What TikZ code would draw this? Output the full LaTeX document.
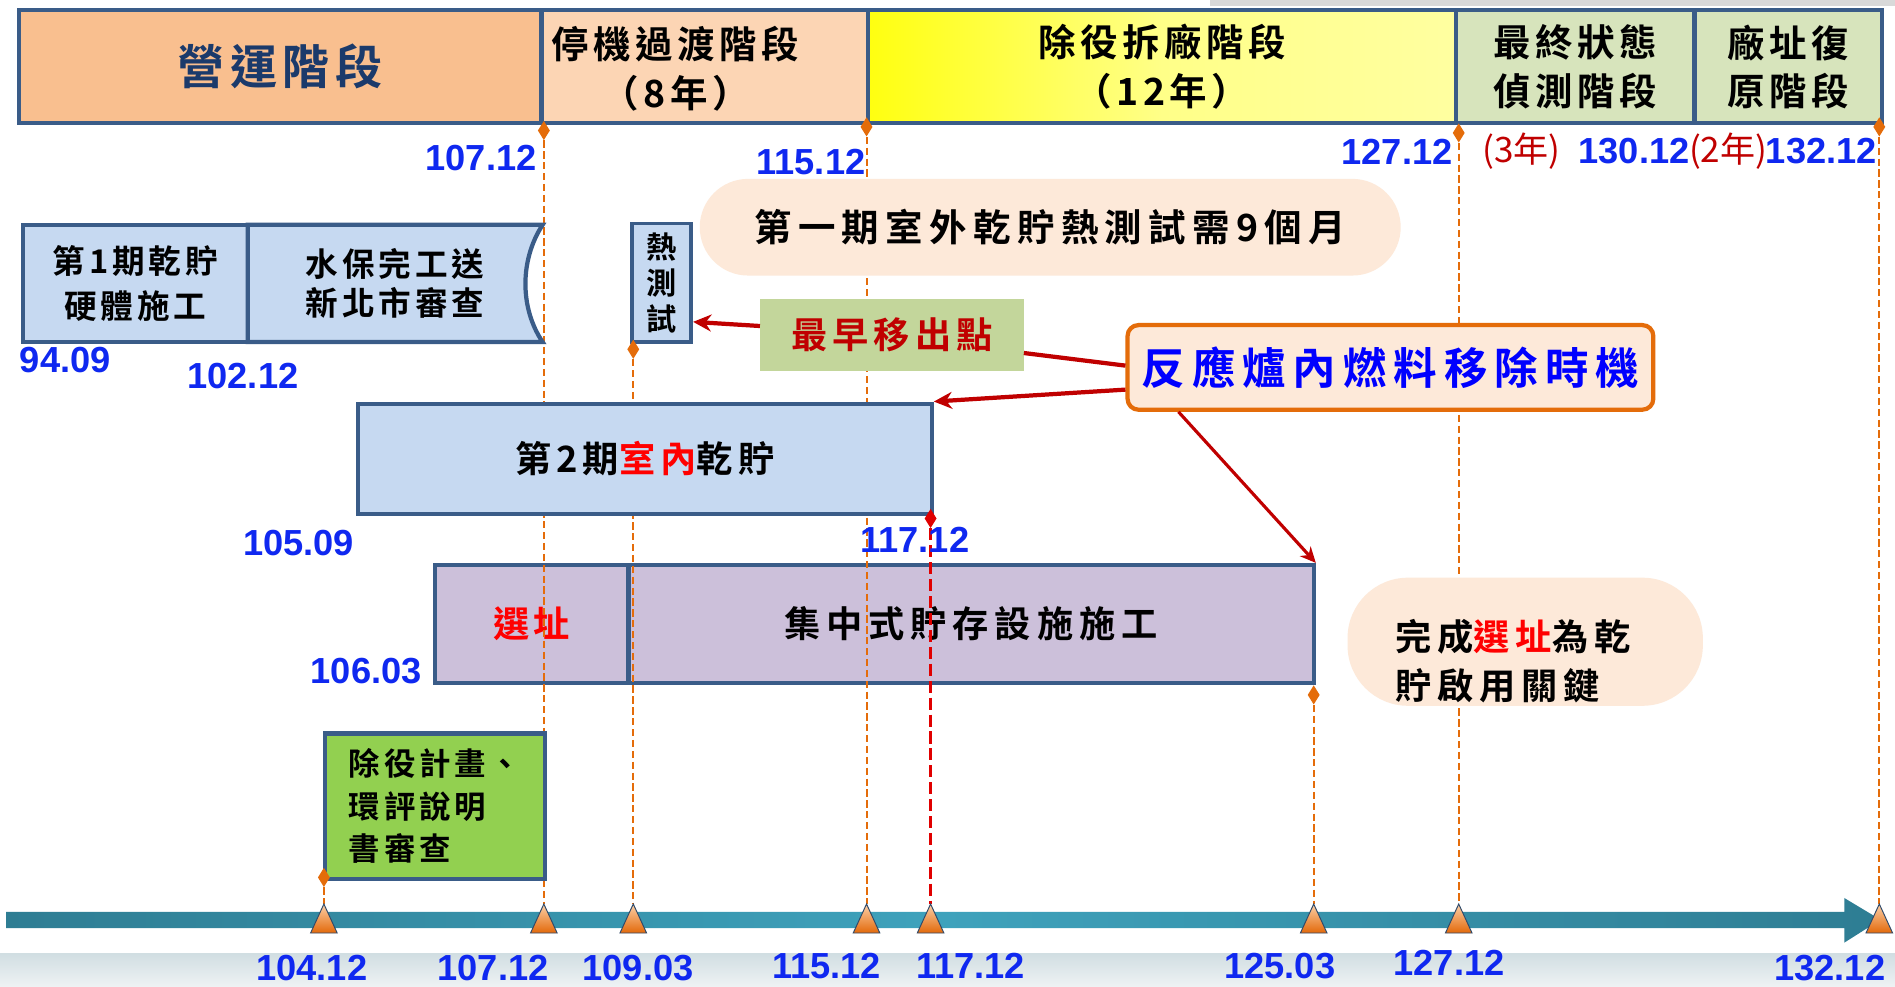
\documentclass[tikz,border=0pt]{standalone}
\usepackage{fontspec}
\usetikzlibrary{arrows.meta,calc,shapes.geometric}
\newfontfamily\cjk{Noto Sans CJK TC}[BoldFont={Noto Sans CJK TC Bold}]
\newfontfamily\numf{Liberation Sans}
\newcommand\cf[3]{\cjk\bfseries\fontsize{#1}{#2}\selectfont\addfontfeature{LetterSpace=#3}}
\newcommand\nf{\numf\bfseries\fontsize{30}{36}\selectfont}
\definecolor{bord}{HTML}{3A5C88}
\definecolor{navyt}{HTML}{1B3A6B}
\definecolor{opfill}{HTML}{F9BF8F}
\definecolor{trfill}{HTML}{FCD5B4}
\definecolor{gfill}{HTML}{D7E4BC}
\definecolor{lblue}{HTML}{C6D9F1}
\definecolor{lpurple}{HTML}{CCC0DA}
\definecolor{lgreen}{HTML}{92D050}
\definecolor{egreen}{HTML}{C3D69B}
\definecolor{peach}{HTML}{FDE9D9}
\definecolor{dorange}{HTML}{E46C0A}
\definecolor{dred}{HTML}{C00000}
\definecolor{pred}{HTML}{FF0000}
\definecolor{pblue}{HTML}{0000FF}
\definecolor{nblue}{HTML}{0F28F0}
\definecolor{rline}{HTML}{E00000}
\definecolor{greyS}{HTML}{D9D9D9}
\definecolor{bandA}{HTML}{D1DEE2}
\definecolor{bandB}{HTML}{EEF2F4}
\definecolor{tealA}{HTML}{2E7D93}
\definecolor{tealB}{HTML}{3EA2BC}
\definecolor{triT}{HTML}{FBD0A8}
\definecolor{triB}{HTML}{E3690A}
\definecolor{triD}{HTML}{2F4A6B}
\definecolor{yelA}{HTML}{FFFF10}
\definecolor{yelB}{HTML}{FFFF88}
\definecolor{yelC}{HTML}{FFFFA0}
\pgfdeclarelayer{bg}
\pgfdeclarelayer{mid}
\pgfsetlayers{bg,mid,main}
\begin{document}
\begin{tikzpicture}[x=1pt,y=-1pt,
  bx/.style={draw=bord, line width=3.5pt, inner sep=0pt},
  odash/.style={draw=dorange, line width=1.6pt, dash pattern=on 6pt off 3pt},
  rdash/.style={draw=rline, line width=2.6pt, dash pattern=on 10pt off 4pt},
  dia/.style={diamond, fill=dorange, inner sep=0pt, minimum width=10pt, minimum height=16pt},
  rdia/.style={dia, fill=rline},
  numl/.style={text=nblue, font=\nf, inner sep=0pt},
  rnum/.style={text=dred, font=\cjk\fontsize{29}{32}\selectfont, inner sep=0pt},
  tri/.style={top color=triT, bottom color=triB, draw=triD, line width=0.8pt},
  rarr/.style={draw=dred, line width=3.5pt, -{Stealth[length=15pt,width=14pt]}},
  rline/.style={draw=dred, line width=3.5pt}]
\useasboundingbox (0,0) rectangle (1568,816);
\begin{pgfonlayer}{bg}
  \fill[white] (0,0) rectangle (1568,816);
  \fill[greyS] (1001,0) rectangle (1568,5);
  \shade[top color=bandA, bottom color=bandB] (0,789) rectangle (1568,816);
  \node[bx, fill=lpurple, minimum width=160pt, minimum height=97.5pt, text=pred, font=\cf{30}{36}{12}] (site) at (440,516.25) {選址};
  \node[bx, fill=lpurple, minimum width=567pt, minimum height=97.5pt, font=\cf{30}{36}{16}] (cs) at (803.5,516.25) {集中式貯存設施施工};
\end{pgfonlayer}

% top bar
\node[bx, fill=opfill, minimum width=432.5pt, minimum height=93.5pt, text=navyt, font=\cf{39}{46}{12}] (op) at (231.75,55.25) {營運階段};
\node[bx, fill=trfill, minimum width=270pt, minimum height=93.5pt] (tr) at (583,55.25) {};
\node[align=center, font=\cf{31}{40}{12}] (trt) at (559,57) {停機過渡階段\\（8年）};
\node[bx, left color=yelA, right color=yelC, middle color=yelB, minimum width=487pt, minimum height=93.5pt, align=center, font=\cf{31}{40}{12}] (dm) at (961.5,55.25) {除役拆廠階段\\（12年）};
\node[bx, fill=gfill, minimum width=197pt, minimum height=93.5pt, align=center, font=\cf{31}{40}{12}] (fs) at (1303.5,55.25) {最終狀態\\偵測階段};
\node[bx, fill=gfill, minimum width=155pt, minimum height=93.5pt, align=center, font=\cf{31}{40}{12}] (sr) at (1479.5,55.25) {廠址復\\原階段};

% row 1
\node[bx, fill=lblue, minimum width=186pt, minimum height=97pt, align=center, font=\cf{27}{37}{12}] (p1) at (112,234.5) {第1期乾貯\\硬體施工};
\draw[draw=bord, line width=3.5pt, fill=lblue] (205,186) -- (449,186) .. controls (430,215) and (430,255) .. (449,283) -- (205,283) -- cycle;
\node[align=center, font=\cf{27}{32}{12}, minimum width=244pt, minimum height=97pt] (wb) at (327,234.5) {水保完工送\\新北市審查};
\node[bx, line width=3pt, fill=lblue, minimum width=49pt, minimum height=98pt, align=center, font=\cf{25}{30}{0}] (heat) at (547.5,234) {熱\\測\\試};
\node[fill=peach, rounded corners=40pt, minimum width=580pt, minimum height=80pt, inner sep=0pt, font=\cf{31}{36}{17}] (fm) at (869,188) {第一期室外乾貯熱測試需9個月};
\node[fill=egreen, minimum width=218pt, minimum height=60pt, inner sep=0pt, text=dred, font=\cf{30}{36}{14}] (early) at (738,277) {最早移出點};
\node[draw=dorange, line width=3.5pt, fill=peach, rounded corners=9pt, minimum width=435pt, minimum height=70pt, inner sep=0pt, text=pblue, font=\cf{36}{40}{16}] (fuel) at (1150.5,304) {反應爐內燃料移除時機};

% row 2
\node[bx, fill=lblue, minimum width=475pt, minimum height=91pt, font=\cf{30}{36}{14}] (ph2) at (533.5,379.5) {第2期{\color{pred}室內}乾貯};

% right note
\node[fill=peach, rounded corners=50pt, minimum width=294pt, minimum height=106pt, inner sep=0pt] (done) at (1262,531) {};
\node[align=left, font=\cf{30}{40}{16}, inner sep=0pt] (donet) at (1252,547) {完成{\color{pred}選址}為乾\\貯啟用關鍵};

% plan box
\node[bx, fill=lgreen, minimum width=182pt, minimum height=120pt, align=left, font=\cf{26}{35}{12}] (plan) at (360,667) {除役計畫、\\環評說明\\書審查};

% number labels
\node[numl] (n1) at (398,131) {107.12};
\node[numl] (n2) at (671,134) {115.12};
\node[numl] (n3) at (1156,126) {127.12};
\node[rnum] (r1) at (1259,125) {(3年)};
\node[numl] (n4) at (1352,125) {130.12};
\node[rnum] (r2) at (1430,125) {(2年)};
\node[numl] (n5) at (1507,125) {132.12};
\node[numl] (m1) at (54,298) {94.09};
\node[numl] (m2) at (201,311) {102.12};
\node[numl] (m3) at (247,449) {105.09};
\node[numl] (m4) at (757,447) {117.12};
\node[numl] (m5) at (303,555) {106.03};
\node[numl] (b1) at (258,801) {104.12};
\node[numl] (b2) at (408,801) {107.12};
\node[numl] (b3) at (528,801) {109.03};
\node[numl] (b4) at (684,799) {115.12};
\node[numl] (b5) at (803,799) {117.12};
\node[numl] (b6) at (1059,799) {125.03};
\node[numl] (b7) at (1199,797) {127.12};
\node[numl] (b8) at (1514,801) {132.12};

% diamonds
\node[dia] (d450) at (450,108) {};
\node[dia] (d717) at (717,105) {};
\node[dia] (d1207) at (1207,110) {};
\node[dia] (d1555) at (1555,105) {};
\node[dia] (d524) at (524,289) {};
\node[dia] (d1087) at (1087,575) {};
\node[dia] (d268) at (268,726) {};
\node[rdia] (d770) at (770,429) {};

% timeline coordinates
\foreach \x in {268,450,524,717,770,1087,1207,1555}{\coordinate (t\x) at (\x,760);}

\begin{pgfonlayer}{mid}
  \foreach \x in {450,717,1207,1555,524,1087,268}{\draw[odash] (d\x) -- ($(t\x)+(0,-12)$);}
  \draw[rdash] (d770) -- ($(t770)+(0,-12)$);
\end{pgfonlayer}

% timeline arrow
\shade[left color=tealA, right color=tealA, middle color=tealB] (5,754.5) -- (1526,754.5) -- (1526,743) -- (1556,761) -- (1526,780) -- (1526,768) -- (5,768) -- cycle;
\foreach \x in {268,450,524,717,770,1087,1207,1555}{
  \shadedraw[tri] ($(t\x)+(-11,12)$) -- ($(t\x)+(0,-12)$) -- ($(t\x)+(11,12)$) -- cycle;}

% connectors
\draw[rarr] ($(early.north west)!0.38!(early.south west)$) -- ($(heat.north east)!0.82!(heat.south east)$);
\draw[rline] ($(fuel.north west)!0.48!(fuel.south west)$) -- ($(early.north east)!0.75!(early.south east)$);
\draw[rarr] ($(fuel.north west)!0.75!(fuel.south west)$) -- (ph2.north east);
\draw[draw=dred, line width=2.6pt, -{Stealth[length=13pt,width=12pt]}] ($(fuel.south west)!0.1!(fuel.south east)$) -- (cs.north east);
\end{tikzpicture}
\end{document}
